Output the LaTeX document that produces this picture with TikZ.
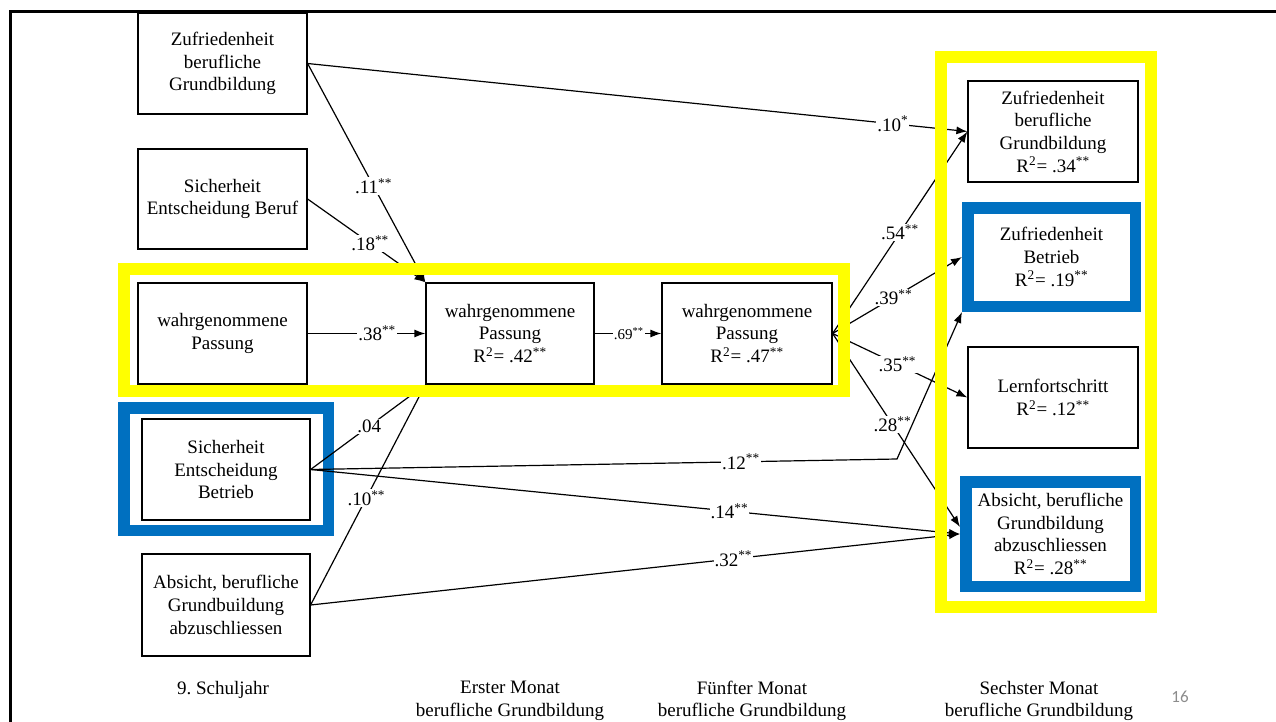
\documentclass[tikz,border=0pt]{standalone}
\usepackage{fontspec}
\setmainfont{Liberation Serif}
\newfontfamily\pagenumfont{Carlito}
\usetikzlibrary{arrows.meta}
\definecolor{hlyellow}{RGB}{255,255,0}
\definecolor{hlblue}{RGB}{0,112,192}
\definecolor{pagegray}{RGB}{140,140,140}
\newcommand\sigss{\textsuperscript{**}}
\newcommand\rsqr{R\textsuperscript{2}\kern0.5pt= }
\begin{document}
\begin{tikzpicture}[x=1pt,y=-1pt,
  every node/.style={font=\fontsize{19}{22.7}\selectfont},
  box/.style={draw, line width=1.2pt, inner sep=0pt, align=center, minimum width=169pt, minimum height=101pt},
  bluebox/.style={draw=hlblue, line width=11.5pt, inner sep=0pt, align=center},
  conn/.style={line width=1.2pt, -{Latex[length=11pt,width=8pt]}},
  lbl/.style={fill=white, inner sep=1pt},
  hlframe/.style={draw=hlyellow, line width=12pt},
  blframe/.style={draw=hlblue, line width=11.5pt},
  period/.style={align=center}
]
\useasboundingbox (0,0) rectangle (1276,722);

% nodes, left column
\node[box] (A) at (222.5,63.5) {Zufriedenheit\\berufliche\\Grundbildung};
\node[box, minimum height=100pt] (B) at (222.5,199) {Sicherheit\\Entscheidung Beruf};
\node[box] (C) at (222.5,333.5) {wahrgenommene\\Passung};
\node[box, minimum width=168pt] (D) at (226,469.5) {Sicherheit\\Entscheidung\\Betrieb};
\node[box, minimum width=168pt, minimum height=102pt] (E) at (226,605) {Absicht, berufliche\\Grundbuildung\\abzuschliessen};

% middle
\node[box, minimum width=168pt] (F) at (510,333.5) {wahrgenommene\\Passung\\\rsqr.42\sigss};
\node[box, minimum width=170pt] (G) at (747,333.5) {wahrgenommene\\Passung\\\rsqr.47\sigss};

% right column
\node[box, minimum width=170pt] (H) at (1053,131.5) {Zufriedenheit\\berufliche\\Grundbildung\\\rsqr.34\sigss};
\node[bluebox, minimum width=167.5pt, minimum height=98.5pt] (I) at (1051.5,257) {Zufriedenheit\\Betrieb\\\rsqr.19\sigss};
\node[box, minimum width=170pt] (J) at (1053,397.5) {Lernfortschritt\\\rsqr.12\sigss};
\node[bluebox, minimum width=169.5pt, minimum height=104.5pt] (K) at (1050.5,534) {Absicht, berufliche\\Grundbildung\\abzuschliessen\\\rsqr.28\sigss};

% blue frame around D
\draw[blframe] (123.75,407.75) rectangle (328.25,530.25);

% connectors
\draw[conn] (A.east) -- node[lbl,pos=0.887]{.10\textsuperscript{*}} (H.west);
\draw[conn] (A.east) -- node[lbl,pos=0.56]{.11\sigss} (F.north west);
\draw[conn] (B.east) -- node[lbl,pos=0.53]{.18\sigss} (F.north west);
\draw[conn] (C.east) -- node[lbl,pos=0.59]{.38\sigss} (F.west);
\draw[conn] (F.east) -- node[lbl,pos=0.51,font=\fontsize{15}{18}\selectfont]{.69\sigss} (G.west);
\draw[conn] (G.east) -- node[lbl,pos=0.5]{.54\sigss} (H.west);
\draw[conn] (G.east) -- node[lbl,pos=0.47]{.39\sigss} (I.west);
\draw[conn] (G.east) -- node[lbl,pos=0.48]{.35\sigss} (J.west);
\draw[conn] (G.east) -- node[lbl,pos=0.47]{.28\sigss} ([yshift=7pt]K.west);
\draw[conn] (D.east) -- node[lbl,pos=0.51]{.04} (F.south west);
\draw[conn] (E.east) -- node[lbl,pos=0.485]{.10\sigss} (F.south west);
\coordinate (bend) at (897,459);
\draw[conn] (D.east) -- node[lbl,pos=0.734]{.12\sigss} (bend) -- (I.south west);
\draw[conn] (D.east) -- node[lbl,pos=0.645]{.14\sigss} (K.west);
\draw[conn] (E.east) -- node[lbl,pos=0.651]{.32\sigss} (K.west);

% yellow highlight frames
\draw[hlframe] (124,269) rectangle (844,391);
\draw[hlframe] (941,57) rectangle (1151,607);

% slide frame
\draw[line width=3pt] (1276,11.5) -- (10,11.5) -- (10,722);

% time labels
\node[period] (t9) at (223,690) {9.\ Schuljahr};
\node[period] (t1) at (510,701) {Erster Monat\\berufliche Grundbildung};
\node[period] (t5) at (752,701) {Fünfter Monat\\berufliche Grundbildung};
\node[period] (t6) at (1039,701) {Sechster Monat\\berufliche Grundbildung};
\node[font=\pagenumfont\fontsize{17}{20}\selectfont, text=pagegray] (pg) at (1180,697) {16};
\end{tikzpicture}
\end{document}
